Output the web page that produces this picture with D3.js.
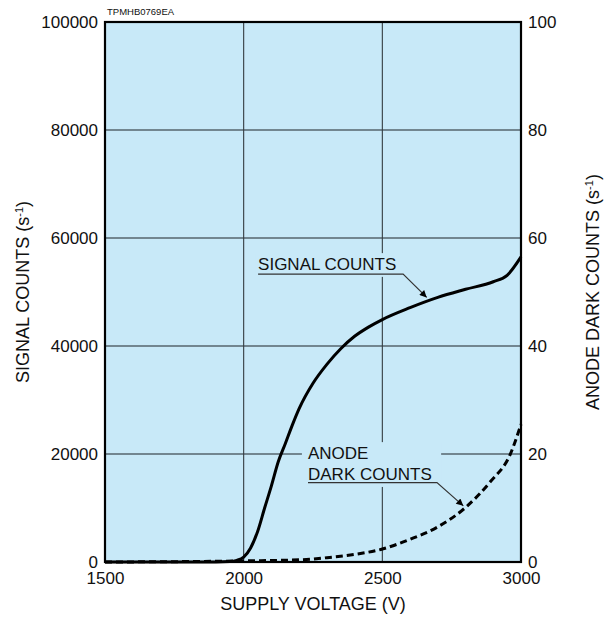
<!DOCTYPE html>
<html>
<head>
<meta charset="utf-8">
<script src="https://d3js.org/d3.v7.min.js"></script>
<style>
  body { margin: 0; background: #fff; }
  text { font-family: "Liberation Sans", Arial, sans-serif; fill: #111; }
</style>
</head>
<body>
<script>
var svgWidth = 612;
var svgHeight = 644;

var margin = { top: 22, right: 91, bottom: 82, left: 105 };
var width = svgWidth - margin.left - margin.right;
var height = svgHeight - margin.top - margin.bottom;

// data
var voltageTicks = [1500, 2000, 2500, 3000];
var signalTicks = [0, 20000, 40000, 60000, 80000, 100000];
var darkTicks = [0, 20, 40, 60, 80, 100];

var signalVolts = [1500, 1900, 1950, 1975, 2000, 2025, 2050, 2075, 2100, 2125, 2150, 2175, 2200, 2250, 2300, 2350, 2400, 2450, 2500, 2600, 2700, 2800, 2900, 2950, 3000];
var signalCounts = [0, 0, 80, 300, 900, 2600, 5600, 9900, 14100, 18600, 21900, 25300, 28400, 33100, 36600, 39500, 41800, 43500, 44900, 47100, 49000, 50500, 51900, 53100, 56500];

var darkVolts = [1500, 2000, 2200, 2300, 2400, 2500, 2600, 2700, 2800, 2890, 2960, 3000];
var darkCounts = [0, 0.2, 0.4, 0.8, 1.4, 2.4, 4.2, 6.5, 10.1, 14.9, 19.8, 25.5];

var svg = d3.select("body")
  .append("svg")
  .attr("width", svgWidth)
  .attr("height", svgHeight);

var chartGroup = svg.append("g")
  .attr("transform", `translate(${margin.left}, ${margin.top})`);

var xScale = d3.scaleLinear().domain([1500, 3000]).range([0, width]);
var ySignal = d3.scaleLinear().domain([0, 100000]).range([height, 0]);
var yDark = d3.scaleLinear().domain([0, 100]).range([height, 0]);

// background
chartGroup.append("rect")
  .attr("width", width)
  .attr("height", height)
  .attr("fill", "#c8e9f8");

// gridlines
chartGroup.selectAll(".hgrid")
  .data(signalTicks.slice(1, -1))
  .enter()
  .append("line")
  .attr("x1", 0).attr("x2", width)
  .attr("y1", d => ySignal(d)).attr("y2", d => ySignal(d))
  .attr("stroke", "#56646e")
  .attr("stroke-width", 1.4);

chartGroup.selectAll(".vgrid")
  .data(voltageTicks.slice(1, -1))
  .enter()
  .append("line")
  .attr("x1", d => xScale(d)).attr("x2", d => xScale(d))
  .attr("y1", 0).attr("y2", height)
  .attr("stroke", "#333b40")
  .attr("stroke-width", 1.1);

// label boxes hide the grid behind the labels
var boxes = [
  { v0: 2041, v1: 2582, s0: 52800, s1: 57200, scale: ySignal },
  { v0: 2210, v1: 2712, s0: 13.9, s1: 22.2, scale: yDark }
];
chartGroup.selectAll(".box")
  .data(boxes)
  .enter()
  .append("rect")
  .attr("x", d => xScale(d.v0))
  .attr("width", d => xScale(d.v1) - xScale(d.v0))
  .attr("y", d => d.scale(d.s1))
  .attr("height", d => d.scale(d.s0) - d.scale(d.s1))
  .attr("fill", "#c8e9f8");

// curves
var signalLine = d3.line()
  .x(d => xScale(d[0]))
  .y(d => ySignal(d[1]))
  .curve(d3.curveMonotoneX);

var darkLine = d3.line()
  .x(d => xScale(d[0]))
  .y(d => yDark(d[1]))
  .curve(d3.curveMonotoneX);

chartGroup.append("path")
  .datum(d3.zip(darkVolts, darkCounts))
  .attr("d", darkLine)
  .attr("fill", "none")
  .attr("stroke", "#000")
  .attr("stroke-width", 3)
  .attr("stroke-dasharray", "7,4");

chartGroup.append("path")
  .datum(d3.zip(signalVolts, signalCounts))
  .attr("d", signalLine)
  .attr("fill", "none")
  .attr("stroke", "#000")
  .attr("stroke-width", 3);

// frame
chartGroup.append("rect")
  .attr("width", width)
  .attr("height", height)
  .attr("fill", "none")
  .attr("stroke", "#000")
  .attr("stroke-width", 2.2);

// axes (labels only)
var bottomAxis = d3.axisBottom(xScale).tickValues(voltageTicks).tickFormat(d3.format("d")).tickSize(0).tickPadding(10);
var leftAxis = d3.axisLeft(ySignal).tickValues(signalTicks).tickFormat(d3.format("d")).tickSize(0).tickPadding(7);
var rightAxis = d3.axisRight(yDark).tickValues(darkTicks).tickFormat(d3.format("d")).tickSize(0).tickPadding(7);

function styleAxis(g) {
  g.select(".domain").remove();
  g.selectAll("text")
    .style("font-family", "'Liberation Sans', Arial, sans-serif")
    .style("font-size", "17px")
    .attr("fill", "#111");
}

chartGroup.append("g")
  .attr("transform", `translate(0, ${height})`)
  .call(bottomAxis)
  .call(styleAxis);

chartGroup.append("g")
  .call(leftAxis)
  .call(styleAxis);

chartGroup.append("g")
  .attr("transform", `translate(${width}, 0)`)
  .call(rightAxis)
  .call(styleAxis);

// axis titles
chartGroup.append("text")
  .attr("transform", `translate(${width / 2}, ${height + 48})`)
  .attr("text-anchor", "middle")
  .style("font-size", "18px")
  .text("SUPPLY VOLTAGE (V)");

var leftTitle = chartGroup.append("text")
  .attr("transform", `translate(${-margin.left + 29}, ${height / 2}) rotate(-90)`)
  .attr("text-anchor", "middle")
  .style("font-size", "18px");
leftTitle.append("tspan").text("SIGNAL COUNTS (s");
leftTitle.append("tspan").attr("baseline-shift", "super").style("font-size", "11px").text("-1");
leftTitle.append("tspan").text(")");

var rightTitle = chartGroup.append("text")
  .attr("transform", `translate(${width + 78}, ${height / 2}) rotate(-90)`)
  .attr("text-anchor", "middle")
  .style("font-size", "18px");
rightTitle.append("tspan").text("ANODE DARK COUNTS (s");
rightTitle.append("tspan").attr("baseline-shift", "super").style("font-size", "11px").text("-1");
rightTitle.append("tspan").text(")");

// figure code
chartGroup.append("text")
  .attr("x", 2)
  .attr("y", -7)
  .style("font-size", "9.5px")
  .text("TPMHB0769EA");

// annotations
svg.append("defs").append("marker")
  .attr("id", "arrow")
  .attr("viewBox", "0 0 10 10")
  .attr("refX", 10).attr("refY", 5)
  .attr("markerWidth", 10).attr("markerHeight", 7)
  .attr("markerUnits", "userSpaceOnUse")
  .attr("orient", "auto")
  .append("path")
  .attr("d", "M0,0 L10,5 L0,10 Z")
  .attr("fill", "#000");

// signal label
chartGroup.append("text")
  .attr("x", xScale(2052))
  .attr("y", ySignal(54000))
  .style("font-size", "17px")
  .text("SIGNAL COUNTS");

chartGroup.append("polyline")
  .attr("points", [[xScale(2052), ySignal(53300)], [xScale(2575), ySignal(53300)], [xScale(2660), ySignal(49000)]].join(" "))
  .attr("fill", "none")
  .attr("stroke", "#333")
  .attr("stroke-width", 1.2)
  .attr("marker-end", "url(#arrow)");

// dark counts label
chartGroup.append("text")
  .attr("x", xScale(2232))
  .attr("y", yDark(19.1))
  .style("font-size", "17px")
  .text("ANODE");

chartGroup.append("text")
  .attr("x", xScale(2232))
  .attr("y", yDark(15.2))
  .style("font-size", "17px")
  .text("DARK COUNTS");

chartGroup.append("polyline")
  .attr("points", [[xScale(2232), yDark(14.7)], [xScale(2697), yDark(14.7)], [xScale(2792), yDark(10.4)]].join(" "))
  .attr("fill", "none")
  .attr("stroke", "#333")
  .attr("stroke-width", 1.2)
  .attr("marker-end", "url(#arrow)");
</script>
</body>
</html>
